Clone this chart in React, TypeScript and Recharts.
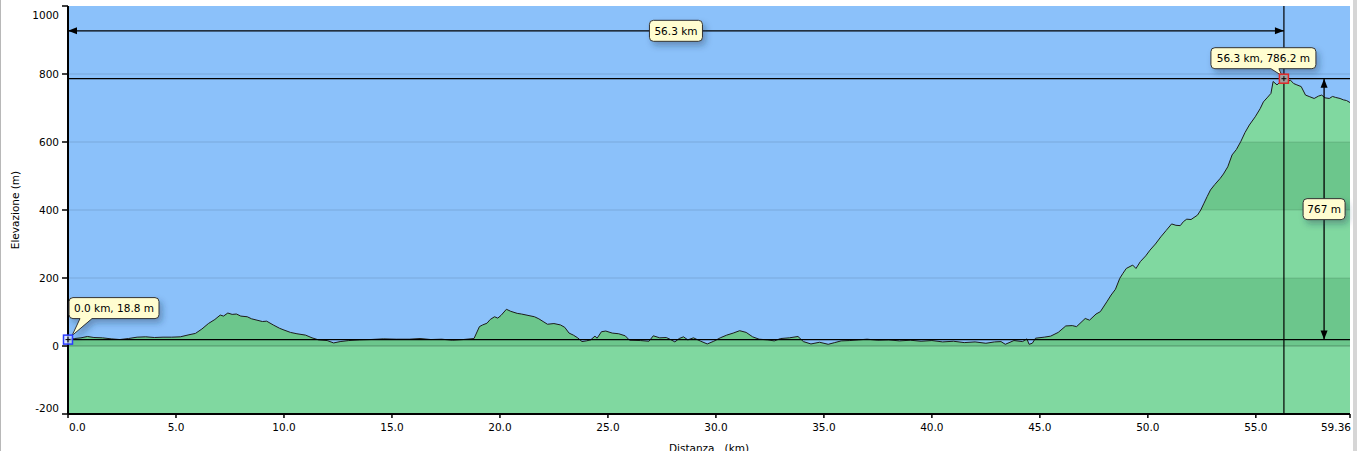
import React from "react";
import {
  AreaChart,
  Area,
  XAxis,
  YAxis,
  CartesianGrid,
  ReferenceLine,
  ReferenceDot,
} from "recharts";

// distance along the track (km) and elevation (m)
const DIST_KM = [
  0.0, 0.3, 0.6, 0.9, 1.2, 1.6, 2.0, 2.4, 2.8, 3.2, 3.6, 4.0, 4.4, 4.8, 5.2, 5.6, 5.9,
  6.2, 6.5, 6.8, 7.05, 7.2, 7.4, 7.6, 7.8, 8.0, 8.3, 8.5, 8.75, 9.0, 9.2, 9.5, 9.8,
  10.0, 10.3, 10.6, 11.0, 11.3, 11.6, 12.0, 12.3, 12.6, 13.0, 13.5, 14.0, 14.6, 15.2,
  15.8, 16.3, 16.8, 17.3, 17.8, 18.3, 18.8, 19.05, 19.2, 19.4, 19.55, 19.75, 19.9,
  20.05, 20.3, 20.5, 20.8, 21.0, 21.3, 21.6, 21.8, 22.0, 22.2, 22.5, 22.8, 23.0, 23.2,
  23.4, 23.6, 23.8, 24.0, 24.2, 24.4, 24.5, 24.7, 24.9, 25.2, 25.5, 25.8, 26.0, 26.5,
  26.9, 27.1, 27.4, 27.7, 27.9, 28.1, 28.3, 28.5, 28.7, 28.96, 29.3, 29.6, 29.9, 30.2,
  30.5, 30.8, 31.1, 31.4, 31.7, 32.0, 32.4, 32.7, 33.0, 33.4, 33.8, 34.05, 34.4, 34.8,
  35.2, 35.5, 35.8, 36.2, 36.6, 37.0, 37.5, 38.0, 38.5, 39.0, 39.5, 40.0, 40.5, 41.0,
  41.5, 42.0, 42.5, 42.9, 43.2, 43.4, 43.8, 44.2, 44.4, 44.5, 44.65, 44.8, 45.2, 45.5,
  45.85, 46.2, 46.5, 46.7, 47.1, 47.3, 47.6, 47.8, 48.1, 48.3, 48.5, 48.7, 48.85, 49.0,
  49.3, 49.45, 49.65, 49.9, 50.1, 50.35, 50.6, 50.85, 51.1, 51.3, 51.5, 51.65, 51.8,
  52.0, 52.3, 52.45, 52.6, 52.75, 52.9, 53.1, 53.35, 53.5, 53.7, 53.9, 54.1, 54.3,
  54.5, 54.7, 54.97, 55.2, 55.35, 55.55, 55.7, 55.8, 55.98, 56.1, 56.3, 56.45, 56.6,
  56.75, 56.9, 57.1, 57.3, 57.5, 57.7, 57.9, 58.05, 58.2, 58.4, 58.55, 58.7, 58.9,
  59.05, 59.2, 59.36,
];
const ELEV_M = [
  18.8, 22, 24, 28, 25, 24, 21, 19, 22, 26, 27, 25, 26, 26, 27, 33, 37,
  50, 66, 78, 91, 88, 97, 93, 94, 88, 86, 80, 76, 72, 73, 62, 52,
  47, 40, 36, 32, 24, 18, 16, 9, 13, 16, 18, 19, 21, 20,
  20, 22, 19, 20, 17, 19, 22, 57, 62, 67, 78, 86, 82,
  90, 108, 102, 96, 94, 90, 86, 80, 72, 64, 66, 62, 55, 38,
  32, 24, 13, 15, 18, 29, 23, 42, 44, 38, 36, 30, 17, 16,
  14, 30, 24, 25, 19, 12, 22, 27, 18, 24, 14, 6, 14, 24,
  32, 38, 45, 40, 27, 20, 18, 15, 22, 24, 28, 13, 6, 11,
  5, 10, 15, 16, 18, 20, 17, 18, 15, 17, 14, 16, 12, 14,
  10, 12, 8, 12, 13, 5, 16, 13, 21, 5, 8, 23, 26, 29,
  40, 59, 60, 57, 81, 76, 94, 101, 130, 150, 167, 199, 214, 228,
  238, 228, 248, 265, 282, 300, 321, 340, 359, 355, 354, 366, 373,
  372, 385, 400, 420, 440, 459, 475, 493, 506, 527, 562, 578, 601,
  628, 650, 674, 698, 718, 732, 743, 778, 768, 775, 786.2, 777, 782,
  772, 768, 763, 738, 733, 728, 735, 738, 730, 728, 734, 731, 728,
  724, 722, 716,
];

const X_TICKS = [0, 5, 10, 15, 20, 25, 30, 35, 40, 45, 50, 55, 59.36];
const Y_TICKS = [-200, 0, 200, 400, 600, 800, 1000];
const GRID_LEVELS = [200, 400, 600, 800];

const START = { km: 0, m: 18.8, label: "0.0 km, 18.8 m" };
const PEAK = { km: 56.3, m: 786.2, label: "56.3 km, 786.2 m" };
const SPAN = { y: 927, label: "56.3 km" };
const CLIMB = { x: 58.16, label: "767 m" };

const Y_MIN = -200;
const Y_MAX = 1000;
const X_MAX = 59.36;

const FONT = "'DejaVu Sans', Verdana, sans-serif";
const BLUE = "#8BC1FA";
const LIGHT = "#80D8A0";
const DARK = "#6CC68C";
const NOTE_BG = "#FFFDD0";

const profile = DIST_KM.map((km, i) => ({ km, elev: ELEV_M[i] }));

// the fill alternates light / dark every 200 m; stops are relative to the fill's bbox
const topVal = Math.max(...ELEV_M);
const frac = (v: number) => Math.min(1, Math.max(0, (topVal - v) / (topVal - Y_MIN)));
const BANDS: [number, number, string][] = [
  [topVal, 600, LIGHT],
  [600, 400, DARK],
  [400, 200, LIGHT],
  [200, 0, DARK],
  [0, Y_MIN, LIGHT],
];

function XTick({ x, y, payload, index }: any) {
  const last = index === X_TICKS.length - 1;
  const anchor = index === 0 ? "start" : last ? "end" : "middle";
  const text = last ? String(payload.value) : Number(payload.value).toFixed(1);
  return (
    <text
      x={index === 0 || last ? x + 1 : x}
      y={y}
      dy="0.71em"
      textAnchor={anchor}
      fontSize={10.5}
      fontFamily={FONT}
      fill="#000"
    >
      {text}
    </text>
  );
}

function YTick({ x, y, payload }: any) {
  let shift = 0;
  if (payload.value === Y_MAX) shift = 9;
  if (payload.value === Y_MIN) shift = -6;
  return (
    <text
      x={x}
      y={y + shift}
      dy="0.36em"
      textAnchor="end"
      fontSize={10.5}
      fontFamily={FONT}
      fill="#000"
    >
      {payload.value}
    </text>
  );
}

function YTitle({ viewBox }: any) {
  const cx = viewBox.x + 6.5;
  const cy = viewBox.y + viewBox.height / 2;
  return (
    <text
      x={cx}
      y={cy}
      transform={`rotate(-90 ${cx} ${cy})`}
      textAnchor="middle"
      dominantBaseline="central"
      fontSize={10.5}
      fontFamily={FONT}
      fill="#000"
    >
      Elevazione (m)
    </text>
  );
}

function XTitle({ viewBox }: any) {
  return (
    <text
      x={viewBox.x + viewBox.width / 2}
      y={viewBox.y + 37.5}
      textAnchor="middle"
      fontSize={10.5}
      fontFamily={FONT}
      fill="#000"
      style={{ whiteSpace: "pre" }}
    >
      {"Distanza   (km)"}
    </text>
  );
}

function Tag({ cx, cy, w, text }: { cx: number; cy: number; w: number; text: string }) {
  return (
    <g>
      <rect
        x={cx - w / 2}
        y={cy - 10.5}
        width={w}
        height={21}
        rx={4}
        fill={NOTE_BG}
        stroke="#333"
        strokeWidth={1}
        filter="url(#noteShadow)"
      />
      <text
        x={cx}
        y={cy}
        dy="0.36em"
        textAnchor="middle"
        fontSize={10.5}
        fontFamily={FONT}
        fill="#000"
      >
        {text}
      </text>
    </g>
  );
}

function SpanArrow({ x1, y1, x2, y2 }: any) {
  return (
    <g>
      <line x1={x1} y1={y1} x2={x2} y2={y2} stroke="#000" strokeWidth={1.3} />
      <polygon points={`${x1},${y1} ${x1 + 9},${y1 - 3.5} ${x1 + 9},${y1 + 3.5}`} fill="#000" />
      <polygon points={`${x2},${y2} ${x2 - 9},${y2 - 3.5} ${x2 - 9},${y2 + 3.5}`} fill="#000" />
      <Tag cx={(x1 + x2) / 2} cy={y1} w={53} text={SPAN.label} />
    </g>
  );
}

function ClimbArrow({ x1, y1, x2, y2 }: any) {
  const top = Math.min(y1, y2);
  const bot = Math.max(y1, y2);
  return (
    <g>
      <line x1={x1} y1={top} x2={x2} y2={bot} stroke="#000" strokeWidth={1.3} />
      <polygon points={`${x1},${top} ${x1 - 3.5},${top + 9} ${x1 + 3.5},${top + 9}`} fill="#000" />
      <polygon points={`${x1},${bot} ${x1 - 3.5},${bot - 9} ${x1 + 3.5},${bot - 9}`} fill="#000" />
      <Tag cx={x1} cy={(top + bot) / 2} w={42} text={CLIMB.label} />
    </g>
  );
}

function calloutPath(
  x0: number, y0: number, w: number, h: number, r: number,
  b1: number, b2: number, tx: number, ty: number
) {
  const yb = y0 + h;
  return [
    `M${x0 + r},${y0}`,
    `H${x0 + w - r}`,
    `Q${x0 + w},${y0} ${x0 + w},${y0 + r}`,
    `V${yb - r}`,
    `Q${x0 + w},${yb} ${x0 + w - r},${yb}`,
    `H${b2}`,
    `L${tx},${ty}`,
    `L${b1},${yb}`,
    `H${x0 + r}`,
    `Q${x0},${yb} ${x0},${yb - r}`,
    `V${y0 + r}`,
    `Q${x0},${y0} ${x0 + r},${y0}`,
    "Z",
  ].join(" ");
}

function Marker({ cx, cy, color, fill }: { cx: number; cy: number; color: string; fill: string }) {
  return (
    <g>
      <rect x={cx - 4.5} y={cy - 4.5} width={9} height={9} fill={fill} stroke={color} strokeWidth={1.5} />
      <line x1={cx - 2.5} y1={cy} x2={cx + 2.5} y2={cy} stroke="#000" strokeWidth={1} />
      <line x1={cx} y1={cy - 2.5} x2={cx} y2={cy + 2.5} stroke="#000" strokeWidth={1} />
    </g>
  );
}

function StartNote({ cx, cy }: any) {
  const x0 = cx + 1;
  const y0 = cy - 42;
  const w = 90;
  return (
    <g>
      <path
        d={calloutPath(x0, y0, w, 21, 4, cx + 12, cx + 24, cx + 4, cy - 4)}
        fill={NOTE_BG}
        stroke="#333"
        strokeWidth={1}
        filter="url(#noteShadow)"
      />
      <text x={x0 + w / 2} y={y0 + 10.5} dy="0.36em" textAnchor="middle" fontSize={10.5} fontFamily={FONT} fill="#000">
        {START.label}
      </text>
      <Marker cx={cx} cy={cy} color="#2a3cff" fill="rgba(200,215,255,0.7)" />
    </g>
  );
}

function PeakNote({ cx, cy }: any) {
  const x0 = cx - 73;
  const y0 = cy - 31;
  const w = 105;
  return (
    <g>
      <path
        d={calloutPath(x0, y0, w, 21, 4, cx - 13, cx - 5, cx - 2, cy - 3)}
        fill={NOTE_BG}
        stroke="#333"
        strokeWidth={1}
        filter="url(#noteShadow)"
      />
      <text x={x0 + w / 2} y={y0 + 10.5} dy="0.36em" textAnchor="middle" fontSize={10.5} fontFamily={FONT} fill="#000">
        {PEAK.label}
      </text>
      <Marker cx={cx} cy={cy} color="#e02828" fill="#a0a0a0" />
    </g>
  );
}

export default function App() {
  return (
    <div style={{ position: "relative", width: 1357, height: 451, background: "#fff" }}>
      <style>{`body{margin:0}`}</style>
      <AreaChart
        width={1357}
        height={451}
        data={profile}
        margin={{ top: 6, right: 7, bottom: 0, left: 8 }}
      >
        <defs>
          <linearGradient id="elevFill" x1="0" y1="0" x2="0" y2="1">
            {BANDS.flatMap(([hi, lo, c], i) => [
              <stop key={`a${i}`} offset={frac(hi)} stopColor={c} />,
              <stop key={`b${i}`} offset={frac(lo)} stopColor={c} />,
            ])}
          </linearGradient>
          <filter id="noteShadow" x="-30%" y="-50%" width="170%" height="250%">
            <feDropShadow dx="3" dy="4" stdDeviation="3" floodColor="#203050" floodOpacity="0.35" />
          </filter>
        </defs>
        <CartesianGrid horizontal={false} vertical={false} fill={BLUE} />
        <XAxis
          dataKey="km"
          type="number"
          domain={[0, X_MAX]}
          ticks={X_TICKS}
          interval={0}
          height={37}
          tick={<XTick />}
          tickSize={4}
          tickMargin={6}
          axisLine={{ stroke: "#000", strokeWidth: 2 }}
          tickLine={{ stroke: "#000", strokeWidth: 1.5 }}
          label={<XTitle />}
        />
        <YAxis
          type="number"
          domain={[Y_MIN, Y_MAX]}
          ticks={Y_TICKS}
          interval={0}
          width={60}
          tick={<YTick />}
          tickSize={6}
          tickMargin={3}
          axisLine={{ stroke: "#000", strokeWidth: 2 }}
          tickLine={{ stroke: "#000", strokeWidth: 1.5 }}
          label={<YTitle />}
        />
        <Area
          type="linear"
          dataKey="elev"
          baseValue={Y_MIN}
          stroke="#1c1c1c"
          strokeWidth={1}
          fill="url(#elevFill)"
          fillOpacity={1}
          isAnimationActive={false}
          dot={false}
          activeDot={false}
        />
        {GRID_LEVELS.map((v) => (
          <ReferenceLine key={v} y={v} stroke="#000" strokeOpacity={0.12} strokeWidth={1} />
        ))}
        <ReferenceLine y={0} stroke="#000" strokeOpacity={0.14} strokeWidth={2} />
        <ReferenceLine y={START.m} stroke="#000" strokeWidth={1.2} />
        <ReferenceLine y={PEAK.m} stroke="#000" strokeWidth={1.2} />
        <ReferenceLine x={PEAK.km} stroke="#000" strokeWidth={1.2} />
        <ReferenceLine
          segment={[{ x: 0, y: SPAN.y }, { x: PEAK.km, y: SPAN.y }]}
          shape={(p: any) => <SpanArrow {...p} />}
        />
        <ReferenceLine
          segment={[{ x: CLIMB.x, y: PEAK.m }, { x: CLIMB.x, y: START.m }]}
          shape={(p: any) => <ClimbArrow {...p} />}
        />
        <ReferenceDot x={START.km} y={START.m} r={5} shape={(p: any) => <StartNote {...p} />} />
        <ReferenceDot x={PEAK.km} y={PEAK.m} r={5} shape={(p: any) => <PeakNote {...p} />} />
      </AreaChart>
      <div style={{ position: "absolute", left: 0, top: 0, width: 1, height: 451, background: "#b8b8b8" }} />
      <div style={{ position: "absolute", left: 1353, top: 0, width: 4, height: 451, background: "#d6d6d6" }} />
    </div>
  );
}
